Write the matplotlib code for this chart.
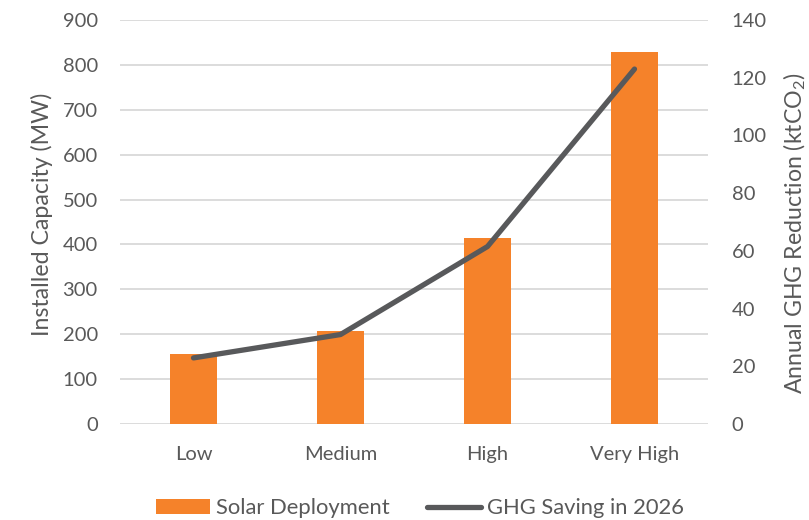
import matplotlib
matplotlib.use("Agg")
import matplotlib.pyplot as plt

# Data
scenarios = ["Low", "Medium", "High", "Very High"]
solar_mw = [156, 207, 414, 829]          # installed capacity (MW)
ghg_kt = [22.9, 31.0, 61.5, 123.0]        # annual GHG reduction (ktCO2)
left_ticks = list(range(0, 901, 100))
right_ticks = list(range(0, 141, 20))

ORANGE = "#F5822A"
LINE = "#58595B"
TEXT = "#595959"
GRID = "#D9D9D9"

plt.rcParams["font.family"] = ["Lato", "DejaVu Sans"]
plt.rcParams["mathtext.fontset"] = "custom"
plt.rcParams["mathtext.rm"] = "Lato"
FS = 14.5      # tick labels
FS_LAB = 16.7  # axis titles
FS_LEG = 15.8  # legend

fig = plt.figure(figsize=(8.09, 5.2), dpi=100)
ax = fig.add_axes([120 / 809, 1 - 424 / 520, 588 / 809, 404 / 520])
ax2 = ax.twinx()

x = list(range(len(scenarios)))
bars = ax.bar(x, solar_mw, width=0.313, color=ORANGE, label="Solar Deployment", zorder=2)
line, = ax2.plot(x, ghg_kt, color=LINE, lw=3.8, solid_capstyle="round",
                 solid_joinstyle="round", label="GHG Saving in 2026", zorder=3)

ax.set_xlim(-0.5, 3.5)
ax.set_ylim(0, 900)
ax.set_yticks(left_ticks)
ax2.set_ylim(0, 140)
ax2.set_yticks(right_ticks)

ax.set_xticks(x)
ax.set_xticklabels(scenarios)

ax.grid(axis="y", color=GRID, lw=1.3, zorder=0)
ax.set_axisbelow(True)
for a in (ax, ax2):
    for s in a.spines.values():
        s.set_visible(False)
ax.tick_params(axis="y", length=0, pad=16, labelsize=FS, labelcolor=TEXT)
ax.tick_params(axis="x", length=0, pad=16, labelsize=FS, labelcolor=TEXT)
ax2.tick_params(axis="y", length=0, pad=17, labelsize=FS, labelcolor=TEXT)

fig.text(42 / 809, 1 - 214 / 520, "Installed Capacity (MW)", rotation=90,
         ha="center", va="center", fontsize=FS_LAB, color=TEXT)
fig.text(795 / 809, 1 - 233 / 520, r"Annual GHG Reduction (ktCO$_\mathregular{2}$)",
         rotation=90, ha="center", va="center", fontsize=FS_LAB, color=TEXT)

leg = fig.legend(handles=[bars, line], loc="center", bbox_to_anchor=(420 / 809, 1 - 508 / 520),
                 ncol=2, frameon=False, fontsize=FS_LEG, handlelength=2.45, handleheight=0.64,
                 handletextpad=0.27, columnspacing=1.7, borderaxespad=0)
for t in leg.get_texts():
    t.set_color(TEXT)

fig.savefig("out.png", dpi=100)
